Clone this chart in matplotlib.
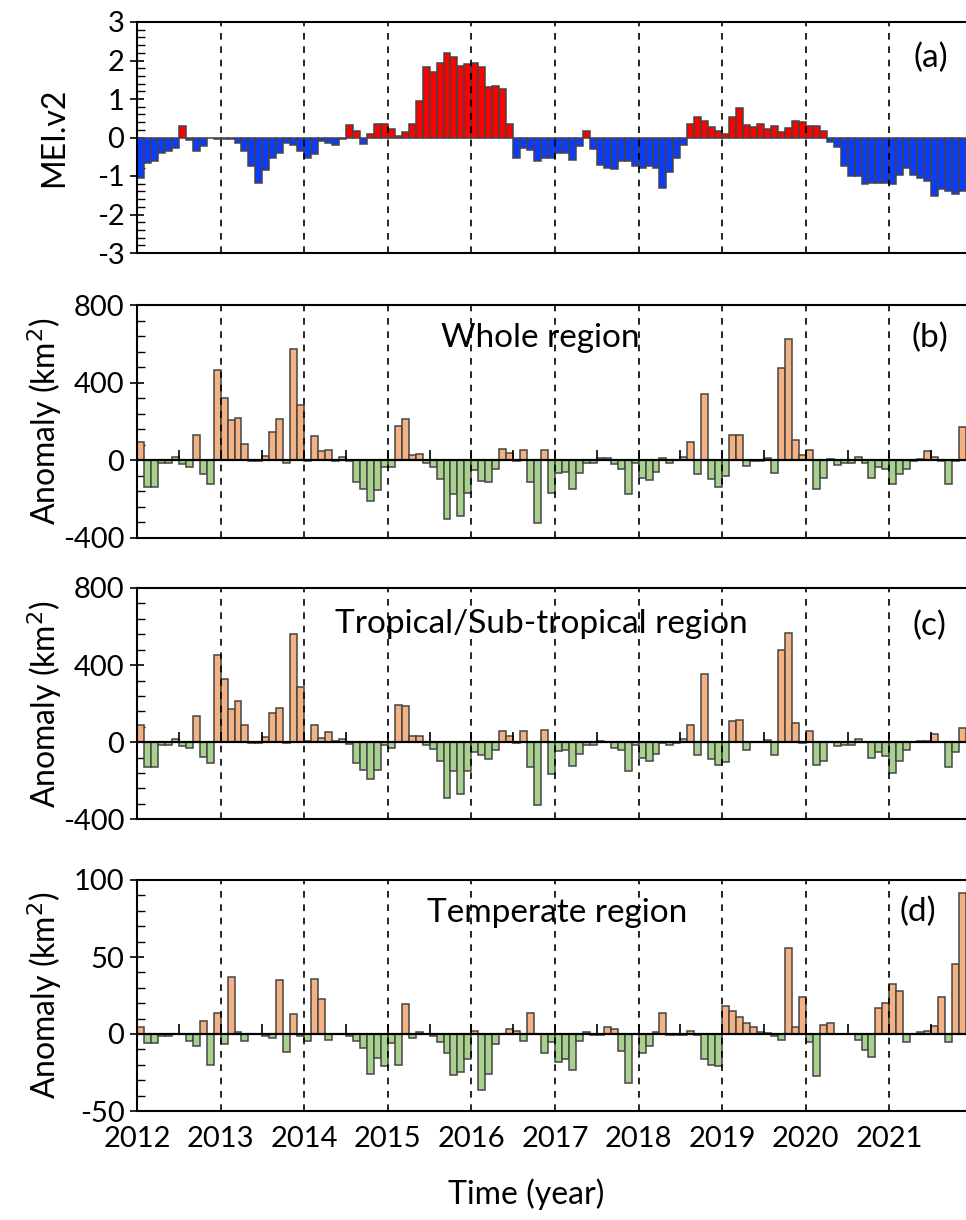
import numpy as np
import matplotlib
matplotlib.use("Agg")
from matplotlib import pyplot as plt
from matplotlib.ticker import MultipleLocator

plt.rcParams['font.family'] = ['Lato', 'DejaVu Sans']
plt.rcParams['axes.unicode_minus'] = False

years = [2012, 2013, 2014, 2015, 2016, 2017, 2018, 2019, 2020, 2021]

# monthly values, Jan 2012 onward
mei = [-1.05, -0.67, -0.60, -0.41, -0.35, -0.28, 0.30, -0.06, -0.34, -0.22, -0.02, -0.03,
       -0.05, -0.05, -0.15, -0.36, -0.73, -1.17, -0.84, -0.52, -0.39, -0.15, -0.19, -0.36,
       -0.52, -0.42, -0.10, -0.15, -0.19, -0.04, 0.33, 0.17, -0.16, 0.09, 0.36, 0.36,
       0.23, 0.05, 0.15, 0.36, 0.95, 1.84, 1.71, 1.93, 2.19, 2.10, 1.87, 1.90,
       1.93, 1.82, 1.31, 1.34, 1.25, 0.36, -0.52, -0.28, -0.32, -0.60, -0.52, -0.52,
       -0.41, -0.41, -0.58, -0.23, 0.17, -0.30, -0.71, -0.80, -0.82, -0.62, -0.62, -0.73,
       -0.78, -0.75, -0.80, -1.30, -0.90, -0.52, -0.19, 0.36, 0.53, 0.42, 0.26, 0.16,
       0.09, 0.53, 0.76, 0.33, 0.26, 0.36, 0.22, 0.30, 0.14, 0.24, 0.44, 0.40,
       0.30, 0.30, 0.16, -0.12, -0.24, -0.73, -1.00, -1.00, -1.20, -1.19, -1.17, -1.19,
       -1.20, -0.97, -0.78, -0.97, -1.06, -1.12, -1.53, -1.33, -1.39, -1.47, -1.40]

whole = [95, -138, -138, -14, -17, 17, -22, -34, 129, -71, -126, 466,
         318, 206, 218, 83, -3, -3, 22, 146, 212, -17, 573, 284,
         -3, 124, 46, 52, -7, 17, -5, -114, -150, -212, -155, -34,
         -34, 177, 212, 24, 29, -17, -34, -100, -303, -177, -291, -172,
         -52, -108, -114, -48, 57, 36, -7, 52, -114, -327, 52, -172,
         -69, -60, -150, -65, -17, -14, 9, 12, -21, -48, -177, -17,
         -95, -103, -60, 12, -17, 0, 17, 95, -72, 341, -100, -138,
         -81, 129, 129, -31, -3, -3, 12, -65, 473, 626, 105, 24,
         52, -150, -95, 5, -26, -14, -17, 17, -17, -91, -34, -48,
         -124, -72, -48, -3, 3, 46, 17, -3, -124, -3, 172]

tropical = [91, -131, -131, -12, -17, 17, -22, -31, 138, -77, -107, 454,
            327, 170, 212, 91, -5, -5, 26, 150, 177, -5, 562, 284,
            5, 89, 24, 53, 7, 17, -9, -107, -143, -189, -143, -17,
            -31, 194, 189, 31, 31, -17, -34, -95, -289, -148, -267, -151,
            -52, -69, -89, -40, 57, 31, -5, 57, -131, -327, 64, -163,
            -48, -40, -126, -60, -17, -17, 5, 3, -29, -38, -150, -14,
            -81, -95, -60, -5, -17, -5, 17, 89, -69, 353, -86, -117,
            -103, 112, 117, -43, 0, 0, 12, -65, 478, 568, 100, -5,
            57, -120, -98, 0, -22, -12, -17, 17, 0, -81, -52, -72,
            -160, -100, -40, 0, 5, 5, 41, 0, -129, -52, 74]

temperate = [4.7, -5.8, -5.8, -1.0, -1.0, 0.0, 0.0, -4.7, -8.0, 8.4, -20.0, 13.6,
             -6.5, 36.9, 1.5, -4.3, 0.0, 0.0, -1.0, -2.8, 34.9, -11.6, 12.9, -1.5,
             -4.7, 35.6, 23.0, -3.7, 0.0, 0.0, -1.0, -4.3, -9.0, -25.9, -15.3, -21.0,
             -5.8, -20.0, 19.8, -2.8, 1.0, 0.0, -1.0, -5.0, -12.5, -26.5, -24.8, -16.2,
             2.2, -36.6, -25.9, -6.5, 0.0, 3.0, 1.7, -4.7, 13.4, 0.0, -12.3, -5.4,
             -18.3, -16.2, -23.7, -4.3, 1.5, -0.4, -0.4, 4.3, 3.0, -10.8, -31.9, 0.0,
             -12.3, -7.5, 1.5, 13.4, -0.4, -0.4, -0.4, 2.2, -0.4, -16.2, -20.0, -20.5,
             17.9, 15.1, 11.2, 6.9, 4.7, 1.1, 0.6, -1.1, -3.7, 55.6, 4.7, 24.1,
             -5.0, -27.4, 6.0, 7.0, 0.0, 0.0, 0.0, -3.7, -10.3, -15.0, 17.0, 20.0,
             32.5, 27.8, -5.4, 0.0, 1.1, 1.7, 5.4, 24.1, -5.4, 45.7, 91.8]

panel_tags = ['(a)', '(b)', '(c)', '(d)']
region_names = [None, 'Whole region', 'Tropical/Sub-tropical region', 'Temperate region']

fig = plt.figure(figsize=(9.66, 12.2), dpi=100)
W, H = 966.0, 1220.0
left = 137 / W
width = 1.0 - left
boxes = [(22, 253), (305, 537.5), (588, 819.3), (880, 1111)]

edge = '#454545'
pos_col = '#F4B183'
neg_col = '#A9D18E'

series = [mei, whole, tropical, temperate]
ylims = [(-3, 3), (-400, 800), (-400, 800), (-50, 100)]
majors = [1, 400, 400, 50]
minors = [0.2, 80, 80, 10]
n = len(mei)
x = np.arange(n)

axes = []
for k in range(4):
    top, bot = boxes[k]
    ax = fig.add_axes([left, 1 - bot / H, width, (bot - top) / H])
    axes.append(ax)
    vals = np.array(series[k])
    if k == 0:
        cols = ['#FF0000' if v > 0 else '#0A3CFF' for v in vals]
    else:
        cols = [pos_col if v > 0 else neg_col for v in vals]
    ax.bar(x, vals, width=1.0, align='edge', color=cols, edgecolor=edge,
           linewidth=1.1, zorder=2)
    ax.set_xlim(0, n)
    ax.set_ylim(*ylims[k])
    ax.yaxis.set_major_locator(MultipleLocator(majors[k]))
    ax.yaxis.set_minor_locator(MultipleLocator(minors[k]))
    ax.tick_params(axis='y', which='major', direction='inout', length=10,
                   width=1.2, labelsize=21, pad=4)
    ax.tick_params(axis='y', which='minor', direction='in', length=6, width=1.0)
    ax.spines['right'].set_visible(False)
    for s in ['left', 'top', 'bottom']:
        ax.spines[s].set_linewidth(1.5)
    for yr in range(12, n, 12):
        ax.axvline(yr, color='black', linestyle=(0, (4, 4)), linewidth=1.2, zorder=4)
    if k > 0:
        ax.axhline(0, color='black', linewidth=1.6, zorder=3)
        ax.plot(np.arange(6, n, 6), np.zeros(len(range(6, n, 6))), linestyle='none',
                marker=2, markersize=7, markeredgewidth=1.2, color='black', zorder=3)
    ax.set_xticks(np.arange(0, n, 12))
    if k == 3:
        ax.set_xticklabels([str(y) for y in years])
        ax.tick_params(axis='x', length=0, labelsize=21, pad=11)
        ax.set_xlabel('Time (year)', fontsize=23)
        ax.xaxis.set_label_coords(0.47, -0.29)
    else:
        ax.set_xticklabels([])
        ax.tick_params(axis='x', length=0)
    if k == 0:
        ax.set_ylabel('MEI.v2', fontsize=23)
        ax.yaxis.set_label_coords(-0.082, 0.5)
    else:
        ax.set_ylabel('Anomaly (km$^2$)', fontsize=23)
        ax.yaxis.set_label_coords(-0.088, 0.5)

region_x = [None, 0.487, 0.488, 0.507]
region_y = [None, 0.858, 0.845, 0.857]
for k in range(1, 4):
    axes[k].text(region_x[k], region_y[k], region_names[k], transform=axes[k].transAxes,
                 fontsize=24, ha='center', va='center', zorder=5)

tag_x = [0.957, 0.957, 0.956, 0.942]
tag_y = [0.844, 0.858, 0.837, 0.861]
for k in range(4):
    axes[k].text(tag_x[k], tag_y[k], panel_tags[k], transform=axes[k].transAxes,
                 fontsize=24, ha='center', va='center', zorder=5)

fig.savefig('out.png', dpi=100)
